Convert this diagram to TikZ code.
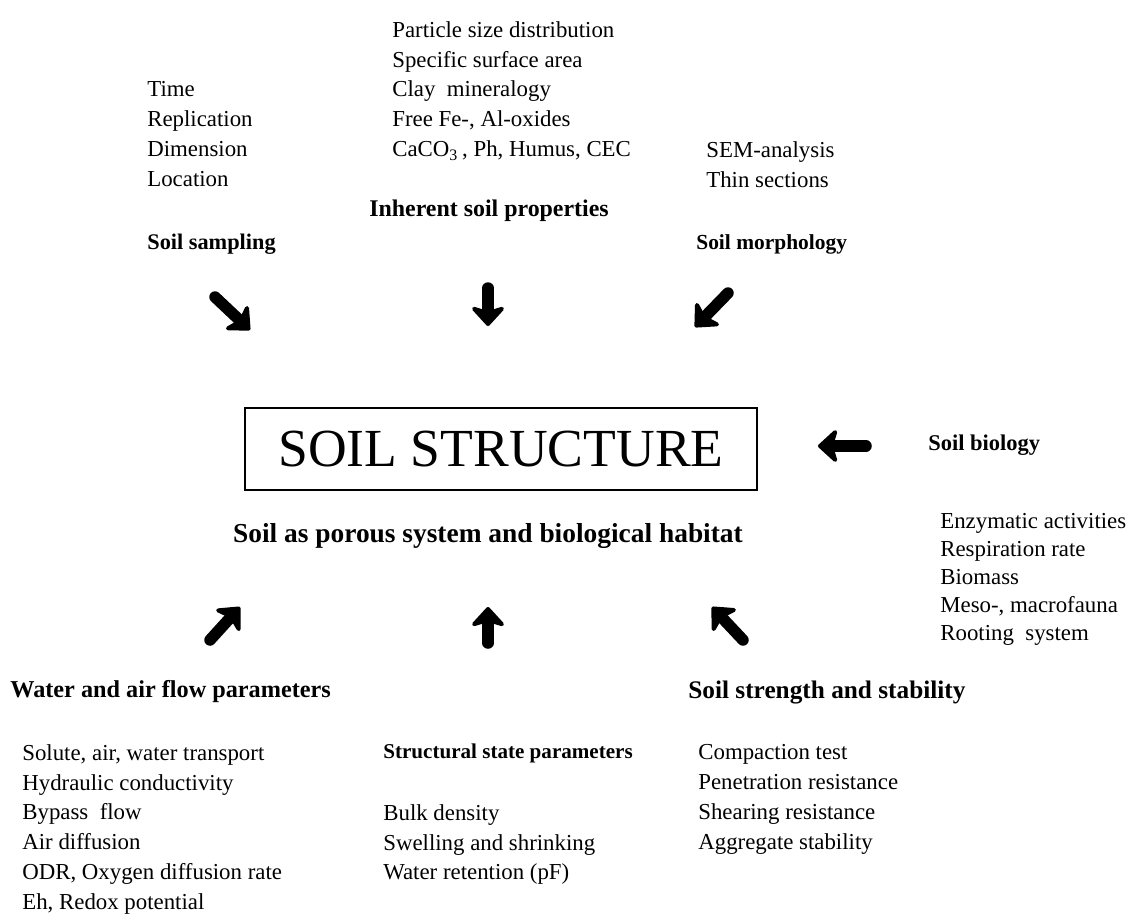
\documentclass[tikz,border=0pt]{standalone}
\usepackage{fontspec}
\setmainfont{Liberation Serif}
\usetikzlibrary{arrows.meta}
\begin{document}
\begin{tikzpicture}[x=0.02cm,y=-0.02cm,
  lst/.style={anchor=north west,inner sep=0pt,align=left,font=\fontsize{13}{17}\selectfont},
  hd/.style={anchor=west,inner sep=0pt,font=\fontsize{#1}{17}\selectfont\bfseries},
  hd/.default=13,
  fat/.style={line width=0.23cm,line cap=round,-{Stealth[round,length=0.44cm,width=0.8cm,inset=0.12cm]}}]
\useasboundingbox (0,0) rectangle (1142,917);
% top
\node[lst] (sampling list) at (147,81) {Time\\Replication\\Dimension\\Location};
\node[lst] (inherent list) at (392,21) {Particle size distribution\\Specific surface area\\Clay\ \ mineralogy\\Free Fe-, Al-oxides\\CaCO\textsubscript{3}\,, Ph, Humus, CEC};
\node[lst] (morph list) at (706,141) {SEM-analysis\\Thin sections};
\node[hd=13.6,anchor=center] (inherent) at (489,211) {Inherent soil properties};
\node[hd=12.7] (sampling) at (147,244) {Soil sampling};
\node[hd=12.2] (morph) at (696,244) {Soil morphology};
\coordinate (s1) at (215,297); \coordinate (s2) at (250,330);
\coordinate (i1) at (488,288); \coordinate (i2) at (488,326);
\coordinate (m1) at (728,293); \coordinate (m2) at (695,327);
\draw[fat] (s1)--(s2);
\draw[fat] (i1)--(i2);
\draw[fat] (m1)--(m2);
% centre
\node[draw,line width=1.5pt,minimum width=10.24cm,minimum height=1.64cm,font=\fontsize{30.5}{36}\selectfont] (structure) at (501,449) {SOIL STRUCTURE};
\node[hd=15.6,anchor=center] (habitat) at (488,536) {Soil as porous system and biological habitat};
% right
\node[hd=12.8] (biology) at (928,445) {Soil biology};
\node[lst,font=\fontsize{13}{16}\selectfont] (biology list) at (940,513) {Enzymatic activities\\Respiration rate\\Biomass\\Meso-, macrofauna\\Rooting\ \ system};
\coordinate (b1) at (866,446); \coordinate (b2) at (818,446);
\draw[fat] (b1)--(b2);
% bottom
\coordinate (w1) at (210,640); \coordinate (w2) at (240,607);
\coordinate (t1) at (488,643); \coordinate (t2) at (488,607);
\coordinate (r1) at (743,640); \coordinate (r2) at (712,607);
\draw[fat] (w1)--(w2);
\draw[fat] (t1)--(t2);
\draw[fat] (r1)--(r2);
\node[hd=13.8] (flow) at (10,692) {Water and air flow parameters};
\node[hd=14.4] (strength) at (688,692) {Soil strength and stability};
\node[hd=12] (state) at (383,753) {Structural state parameters};
\node[lst] (flow list) at (22,744) {Solute, air, water transport\\Hydraulic conductivity\\Bypass\ \ flow\\Air diffusion\\ODR, Oxygen diffusion rate\\Eh, Redox potential};
\node[lst] (state list) at (383,804) {Bulk density\\Swelling and shrinking\\Water retention (pF)};
\node[lst] (strength list) at (698,744) {Compaction test\\Penetration resistance\\Shearing resistance\\Aggregate stability};
\end{tikzpicture}
\end{document}
